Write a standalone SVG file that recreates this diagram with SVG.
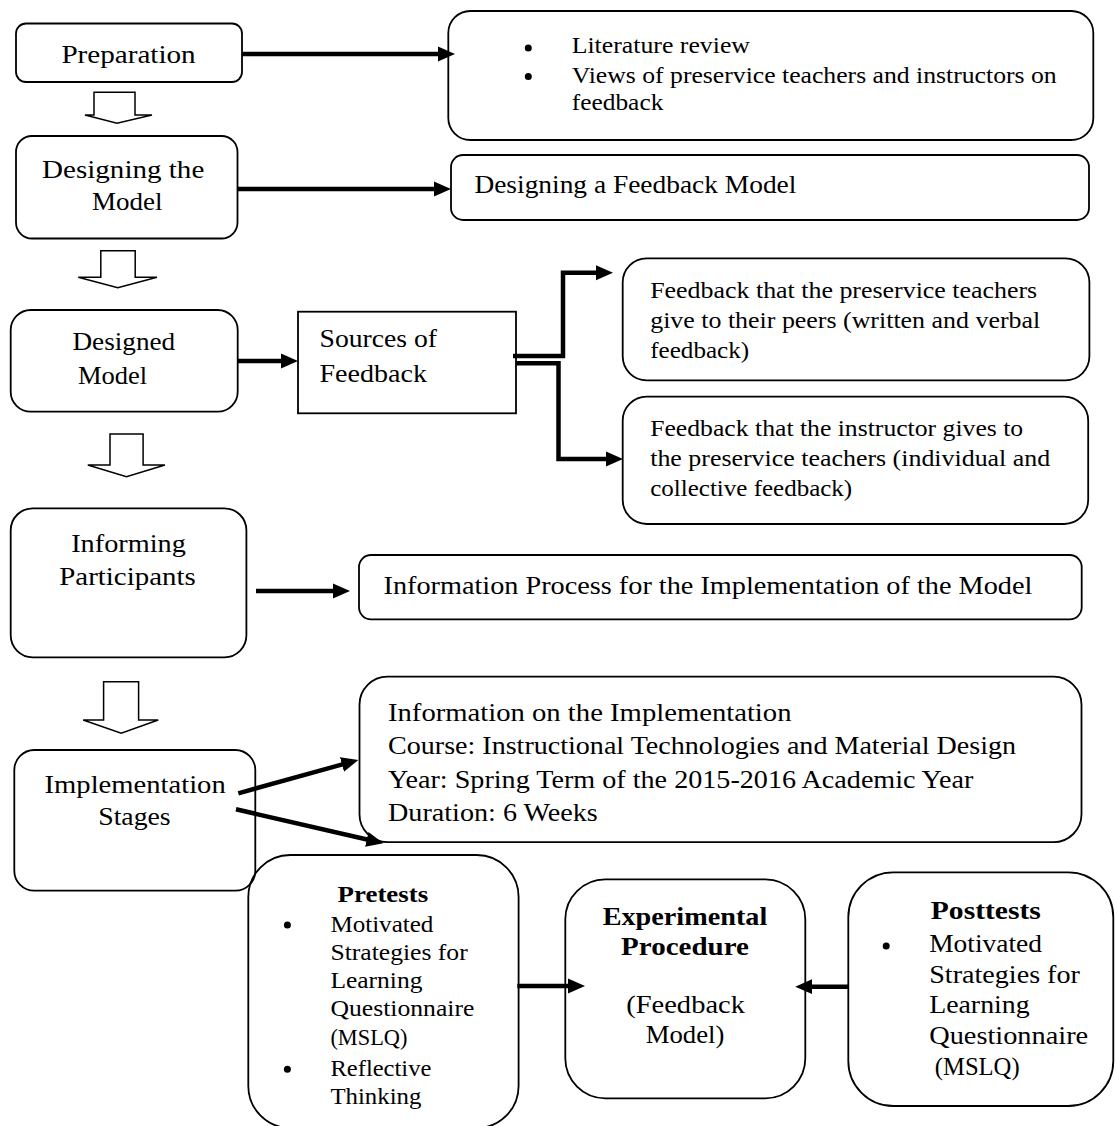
<svg xmlns="http://www.w3.org/2000/svg" width="1115" height="1126" viewBox="0 0 1115 1126">
<defs>
<style>
.box{fill:none;stroke:#000;stroke-width:1.8}
.conn{fill:none;stroke:#000;stroke-width:4.5;stroke-linejoin:miter}
.hollow{fill:#fff;stroke:#000;stroke-width:1.5}
text{font-family:"Liberation Serif","Times New Roman",serif;font-size:26px;fill:#000}
.s{font-size:23px}
.b{font-weight:bold}
.dot{fill:#000}
</style>
<marker id="ah" markerUnits="userSpaceOnUse" markerWidth="17" markerHeight="17" viewBox="0 0 17 17" refX="7" refY="8.5" orient="auto">
<path d="M0,1 L17,8.5 L0,16 z" fill="#000"/>
</marker>
</defs>
<rect x="0" y="0" width="1115" height="1126" fill="#fff"/>

<g id="connectors">
<line class="conn" x1="242" y1="54" x2="445" y2="54" marker-end="url(#ah)"/>
<line class="conn" x1="237.5" y1="189" x2="441" y2="189" marker-end="url(#ah)"/>
<line class="conn" x1="237.6" y1="361" x2="288" y2="361" marker-end="url(#ah)"/>
<polyline class="conn" points="513,356 563,356 563,272.7 603,272.7" marker-end="url(#ah)"/>
<polyline class="conn" points="516,363.3 558.5,363.3 558.5,459 613,459" marker-end="url(#ah)"/>
<line class="conn" x1="256" y1="591" x2="340" y2="591" marker-end="url(#ah)"/>
<line class="conn" x1="238.3" y1="793.3" x2="348.7" y2="762.7" marker-end="url(#ah)"/>
<line class="conn" x1="236" y1="809.3" x2="373.6" y2="841" marker-end="url(#ah)"/>
<line class="conn" x1="517.3" y1="986" x2="575" y2="986" marker-end="url(#ah)"/>
<line class="conn" x1="848.3" y1="986.7" x2="805.2" y2="986.7" marker-end="url(#ah)"/>
<polygon class="hollow" points="94,92.3 135,92.3 135,115 152,115 117,123.3 85,115 94,115"/>
<polygon class="hollow" points="100.8,250.7 135.2,250.7 135.2,277.3 157,277.3 117.8,287.7 78.3,277.3 100.8,277.3"/>
<polygon class="hollow" points="110,434 143.1,434 143.1,465 164.9,465 126.5,476.7 87.8,465 110,465"/>
<polygon class="hollow" points="103.6,681.7 138.6,681.7 138.6,720 158.2,720 121.2,733.3 83.2,720 103.6,720"/>
</g>

<g id="preparation">
<rect class="box" x="16" y="23.5" width="226" height="58.5" rx="10"/>
<text x="61.4" y="63.3" textLength="134.3" lengthAdjust="spacingAndGlyphs">Preparation</text>
</g>

<g id="literature">
<rect class="box" x="448.3" y="11" width="645" height="129" rx="22"/>
<circle class="dot" cx="528.3" cy="48" r="3.5"/>
<circle class="dot" cx="528.3" cy="76.5" r="3.5"/>
<text class="s" x="571.7" y="53.3" textLength="178.3" lengthAdjust="spacingAndGlyphs">Literature review</text>
<text class="s" x="571.7" y="82.5" textLength="485" lengthAdjust="spacingAndGlyphs">Views of preservice teachers and instructors on</text>
<text class="s" x="571.7" y="110" textLength="91.7" lengthAdjust="spacingAndGlyphs">feedback</text>
</g>

<g id="designing-the-model">
<rect class="box" x="16" y="136" width="221.5" height="102.5" rx="16"/>
<text x="42.1" y="178.3" textLength="162.2" lengthAdjust="spacingAndGlyphs">Designing the</text>
<text x="92.1" y="210" textLength="70.4" lengthAdjust="spacingAndGlyphs">Model</text>
</g>

<g id="designing-feedback-model">
<rect class="box" x="451" y="155" width="638" height="65" rx="12"/>
<text x="474.4" y="193.3" textLength="322" lengthAdjust="spacingAndGlyphs">Designing a Feedback Model</text>
</g>

<g id="designed-model">
<rect class="box" x="10.7" y="310" width="227" height="101.7" rx="20"/>
<text x="72.4" y="350" textLength="102.8" lengthAdjust="spacingAndGlyphs">Designed</text>
<text x="77.9" y="384" textLength="69.2" lengthAdjust="spacingAndGlyphs">Model</text>
</g>

<g id="sources-of-feedback">
<rect class="box" x="298" y="311.7" width="218" height="101.6"/>
<text x="319.5" y="347.3" textLength="117.5" lengthAdjust="spacingAndGlyphs">Sources of</text>
<text x="319.5" y="381.7" textLength="107.5" lengthAdjust="spacingAndGlyphs">Feedback</text>
</g>

<g id="peer-feedback">
<rect class="box" x="622.7" y="258.3" width="466.7" height="122" rx="24"/>
<text class="s" x="650.2" y="298.3" textLength="387" lengthAdjust="spacingAndGlyphs">Feedback that the preservice teachers</text>
<text class="s" x="650.2" y="328.3" textLength="390" lengthAdjust="spacingAndGlyphs">give to their peers (written and verbal</text>
<text class="s" x="650.2" y="358.3" textLength="99" lengthAdjust="spacingAndGlyphs">feedback)</text>
</g>

<g id="instructor-feedback">
<rect class="box" x="622.7" y="396.7" width="465.5" height="127.3" rx="24"/>
<text class="s" x="650.2" y="436.3" textLength="373" lengthAdjust="spacingAndGlyphs">Feedback that the instructor gives to</text>
<text class="s" x="650.2" y="466.3" textLength="400" lengthAdjust="spacingAndGlyphs">the preservice teachers (individual and</text>
<text class="s" x="650.2" y="496.3" textLength="202" lengthAdjust="spacingAndGlyphs">collective feedback)</text>
</g>

<g id="informing-participants">
<rect class="box" x="10.7" y="508.3" width="235.7" height="149" rx="22"/>
<text x="71.2" y="551.7" textLength="114.6" lengthAdjust="spacingAndGlyphs">Informing</text>
<text x="59.3" y="585" textLength="136.4" lengthAdjust="spacingAndGlyphs">Participants</text>
</g>

<g id="information-process">
<rect class="box" x="359" y="555" width="722.7" height="64.3" rx="12"/>
<text x="383.5" y="593.5" textLength="648.8" lengthAdjust="spacingAndGlyphs">Information Process for the Implementation of the Model</text>
</g>

<g id="implementation-stages">
<rect class="box" x="14.3" y="750" width="241" height="140.7" rx="20"/>
<text x="44.6" y="792.7" textLength="181.1" lengthAdjust="spacingAndGlyphs">Implementation</text>
<text x="98.2" y="825" textLength="72.5" lengthAdjust="spacingAndGlyphs">Stages</text>
</g>

<g id="implementation-info">
<rect class="box" x="359.5" y="676.7" width="722" height="165.5" rx="28"/>
<text x="388" y="720.5" textLength="403.5" lengthAdjust="spacingAndGlyphs">Information on the Implementation</text>
<text x="388" y="754" textLength="628" lengthAdjust="spacingAndGlyphs">Course: Instructional Technologies and Material Design</text>
<text x="388" y="787.5" textLength="585.4" lengthAdjust="spacingAndGlyphs">Year: Spring Term of the 2015-2016 Academic Year</text>
<text x="388" y="821" textLength="209.8" lengthAdjust="spacingAndGlyphs">Duration: 6 Weeks</text>
</g>

<g id="pretests">
<rect class="box" x="248.3" y="855" width="270.3" height="273" rx="42"/>
<text class="s b" x="337.6" y="901.7" textLength="90.6" lengthAdjust="spacingAndGlyphs">Pretests</text>
<circle class="dot" cx="287.4" cy="925" r="3.5"/>
<circle class="dot" cx="287.4" cy="1069.3" r="3.5"/>
<text class="s" x="330.4" y="931.7" textLength="103" lengthAdjust="spacingAndGlyphs">Motivated</text>
<text class="s" x="330.4" y="959.5" textLength="137.3" lengthAdjust="spacingAndGlyphs">Strategies for</text>
<text class="s" x="330.4" y="987.5" textLength="92" lengthAdjust="spacingAndGlyphs">Learning</text>
<text class="s" x="330.4" y="1015.7" textLength="144" lengthAdjust="spacingAndGlyphs">Questionnaire</text>
<text class="s" x="330.4" y="1044.5" textLength="77" lengthAdjust="spacingAndGlyphs">(MSLQ)</text>
<text class="s" x="330.4" y="1076.4" textLength="101" lengthAdjust="spacingAndGlyphs">Reflective</text>
<text class="s" x="330.4" y="1103.8" textLength="91" lengthAdjust="spacingAndGlyphs">Thinking</text>
</g>

<g id="experimental-procedure">
<rect class="box" x="565.3" y="879.3" width="240" height="219" rx="40"/>
<text class="b" x="602.7" y="925" textLength="164.6" lengthAdjust="spacingAndGlyphs">Experimental</text>
<text class="b" x="621.1" y="955" textLength="127.8" lengthAdjust="spacingAndGlyphs">Procedure</text>
<text x="626.2" y="1013.3" textLength="118.8" lengthAdjust="spacingAndGlyphs">(Feedback</text>
<text x="645.7" y="1043.3" textLength="78.7" lengthAdjust="spacingAndGlyphs">Model)</text>
</g>

<g id="posttests">
<rect class="box" x="848.3" y="872.3" width="265" height="233.7" rx="45"/>
<text class="b" x="930.8" y="919" textLength="110" lengthAdjust="spacingAndGlyphs">Posttests</text>
<circle class="dot" cx="886.2" cy="946" r="3.5"/>
<text x="929.2" y="951.7" textLength="112.7" lengthAdjust="spacingAndGlyphs">Motivated</text>
<text x="929.2" y="983.3" textLength="150.7" lengthAdjust="spacingAndGlyphs">Strategies for</text>
<text x="929.2" y="1013.3" textLength="100.4" lengthAdjust="spacingAndGlyphs">Learning</text>
<text x="929.2" y="1044" textLength="159" lengthAdjust="spacingAndGlyphs">Questionnaire</text>
<text x="934.8" y="1075" textLength="84.8" lengthAdjust="spacingAndGlyphs">(MSLQ)</text>
</g>
</svg>
